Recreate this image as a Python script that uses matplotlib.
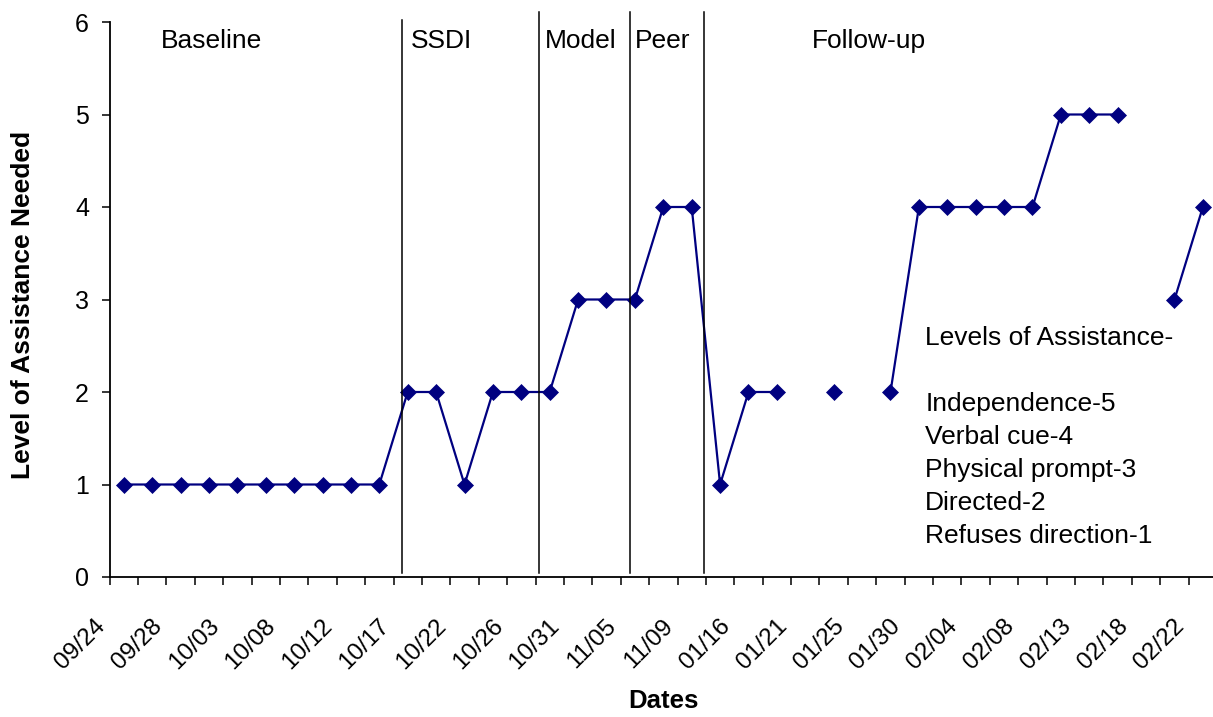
import numpy as np
import matplotlib
matplotlib.use("Agg")
import matplotlib.pyplot as plt
from matplotlib.transforms import ScaledTranslation

plt.rcParams['font.family'] = ['Liberation Sans', 'DejaVu Sans']

# session dates (only every other one is labelled on the axis)
dates = ["09/24", "09/26", "09/28", "10/01", "10/03", "10/05", "10/08", "10/10",
         "10/12", "10/15", "10/17", "10/19", "10/22", "10/24", "10/26", "10/29",
         "10/31", "11/02", "11/05", "11/07", "11/09", "01/14", "01/16", "01/18",
         "01/21", "01/23", "01/25", "01/28", "01/30", "02/01", "02/04", "02/06",
         "02/08", "02/11", "02/13", "02/15", "02/18", "02/20", "02/22"]

# level of assistance needed (nan = no session recorded)
levels = [1, 1, 1, 1, 1, 1, 1, 1, 1, 1,
          2, 2, 1, 2, 2, 2, 3, 3, 3, 4,
          4, 1, 2, 2, np.nan, 2, np.nan, 2, 4, 4,
          4, 4, 4, 5, 5, 5, np.nan, 3, 4]

# phase change lines (category position) and phase names
phase_lines = [9.81, 14.63, 17.82, 20.42]
phase_names = ["Baseline", "SSDI", "Model", "Peer", "Follow-up"]
phase_text_x = [1.32, 10.12, 14.84, 18.01, 24.24]

key_lines = ["Levels of Assistance-", "", "Independence-5", "Verbal cue-4",
             "Physical prompt-3", "Directed-2", "Refuses direction-1"]

W, H = 1213, 717
fig = plt.figure(figsize=(W / 100, H / 100), dpi=100)
ax = fig.add_axes([109.5 / W, 140 / H, 1107.6 / W, 555 / H])

x = np.arange(len(dates))
ax.plot(x, levels, color='#000080', linewidth=1.6, marker='D',
        markersize=8.3, markeredgewidth=0.5, clip_on=False)

ax.set_xlim(-0.5, len(dates) - 0.5)
ax.set_ylim(0, 6)

# phase lines
for p in phase_lines:
    top = 6.02 if p == phase_lines[0] else 6.11
    ax.plot([p, p], [0.04, top], color='black', linewidth=1.1, clip_on=False)

for name, px in zip(phase_names, phase_text_x):
    ax.text(px, 5.72, name, fontsize=19, ha='left', va='baseline')

for i, line in enumerate(key_lines):
    ax.annotate(line, xy=(28.22, 2.51), xytext=(0, -i * 33 * 0.72),
                textcoords='offset points', fontsize=19, ha='left', va='baseline')

# axes styling
for s in ['top', 'right']:
    ax.spines[s].set_visible(False)
for s in ['left', 'bottom']:
    ax.spines[s].set_linewidth(1.3)

ax.set_yticks(range(7))
ax.tick_params(axis='y', length=5.8, width=1.1, pad=9, labelsize=18)

ax.set_xticks(x[::2])
ax.set_xticklabels(dates[::2], rotation=45, ha='right', fontsize=17.5)
ax.set_xticks(np.arange(-0.5, len(dates), 1), minor=True)
ax.tick_params(axis='x', which='major', length=0, pad=27.4)
ax.tick_params(axis='x', which='minor', length=5.8, width=1.1)
shift = ScaledTranslation(-14 / 100, 0, fig.dpi_scale_trans)
for lab in ax.get_xticklabels():
    lab.set_transform(lab.get_transform() + shift)

fig.text(23 / W, 1 - 305 / H, "Level of Assistance Needed", rotation=90,
         fontsize=19, fontweight='bold', ha='center', va='center')
fig.text(663 / W, 1 - 701 / H, "Dates", fontsize=18.5, fontweight='bold',
         ha='center', va='center')

fig.savefig("out.png", dpi=100)
